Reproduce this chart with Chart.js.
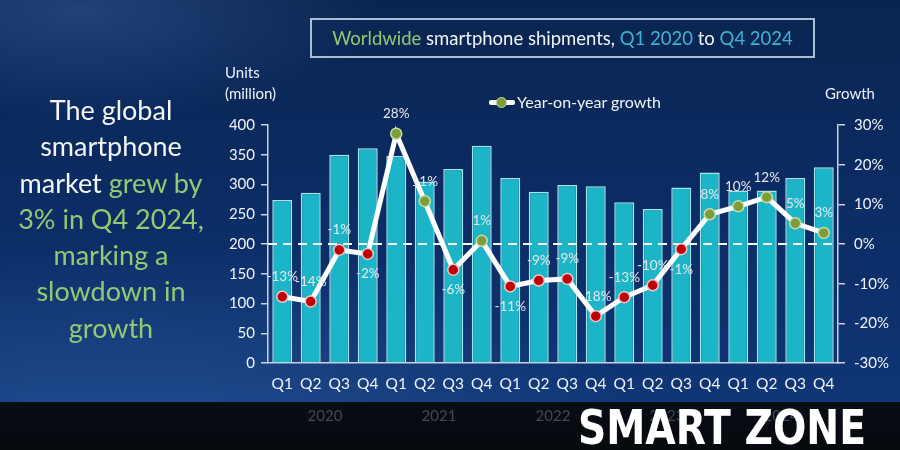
<!DOCTYPE html>
<html>
<head>
<meta charset="utf-8">
<script src="https://cdn.jsdelivr.net/npm/chart.js@4"></script>
<style>
  html, body { margin:0; padding:0; }
  body {
    width:900px; height:450px; overflow:hidden; position:relative;
    font-family: Lato, "Open Sans", sans-serif;
    background:
      radial-gradient(ellipse 300px 110px at 80px 10px, rgba(70,110,180,0.40), rgba(70,110,180,0) 100%),
      radial-gradient(ellipse 560px 240px at 120px 480px, rgba(70,120,190,0.42), rgba(70,120,190,0) 100%),
      linear-gradient(180deg, #09244f 0%, #0b2b62 40%, #10387a 100%);
  }
  #strip { position:absolute; left:0; top:402px; width:900px; height:48px;
    background: linear-gradient(180deg, #090d14 0%, #06090e 100%); }
  #wrap { position:absolute; left:0; top:0; width:900px; height:450px; }
  .abs { position:absolute; white-space:nowrap; }
  #titlebox { left:310px; top:18px; width:501px; height:36px; border:2px solid #a9bed6;
    color:#f2f5f8; font-size:18.5px; line-height:36px; text-align:center; }
  .g { color:#93c972; }
  .c { color:#3fb4d6; }
  #lefttext { left:0px; top:92px; width:222px; text-align:center; font-size:27px; line-height:36.3px; color:#f4f6f8; }
  .axt { color:#f0f3f7; font-size:15px; line-height:18px; }
  #legend { left:489px; top:92px; height:20px; font-size:16px; color:#f0f3f7; }
  #legline { position:absolute; left:0; top:8px; width:26px; height:5px; background:#fff; border-radius:2px; }
  #legdot { position:absolute; left:7px; top:5px; width:11px; height:11px; border-radius:50%; background:#7d9c3a; border:1px solid #c9d9a6; box-sizing:border-box; }
  #legtxt { position:absolute; left:28px; top:0; line-height:20px; }
  #wm { left:578px; top:403px; color:#ffffff; font-family:"Liberation Sans Narrow","DejaVu Sans Condensed",sans-serif;
    font-weight:bold; font-size:46px; line-height:46px; transform-origin:0 0; }
</style>
</head>
<body>
<div id="strip"></div>
<div id="wrap"><canvas id="c" width="900" height="450"></canvas></div>

<div id="titlebox" class="abs"><span class="g">Worldwide</span> smartphone shipments, <span class="c">Q1 2020</span> to <span class="c">Q4 2024</span></div>
<div id="lefttext" class="abs">The global<br>smartphone<br>market <span class="g">grew by</span><br><span class="g">3% in Q4 2024,</span><br><span class="g">marking a</span><br><span class="g">slowdown in</span><br><span class="g">growth</span></div>
<div class="abs axt" style="left:225px; top:63px;">Units</div>
<div class="abs axt" style="left:225px; top:84px;">(million)</div>
<div class="abs axt" style="left:825px; top:84px;">Growth</div>
<div id="legend" class="abs"><div id="legline"></div><div id="legdot"></div><div id="legtxt">Year-on-year growth</div></div>
<div id="wm" class="abs">SMART ZONE</div>

<script>
// ---- data ----
const quarters = ["Q1","Q2","Q3","Q4","Q1","Q2","Q3","Q4","Q1","Q2","Q3","Q4","Q1","Q2","Q3","Q4","Q1","Q2","Q3","Q4"];
const years = ["2020","2021","2022","2023","2024"];
const shipments = [274,286,350,361,348,305,326,365,311,288,299,297,270,259,295,320,290,290,311,329];
const growth = [-13.3,-14.5,-1.5,-2.5,27.8,10.8,-6.5,0.8,-10.7,-9.2,-8.8,-18.2,-13.4,-10.4,-1.3,7.5,9.5,11.8,5.2,2.8];
const growthLabels = ["-13%","-14%","-1%","-2%","28%","11%","-6%","1%","-11%","-9%","-9%","-18%","-13%","-10%","-1%","8%","10%","12%","5%","3%"];
const unitTicks = [0,50,100,150,200,250,300,350,400];
const growthTicks = [-30,-20,-10,0,10,20,30];

// label placement (below the point for these indices, otherwise above)
const belowIdx = new Set([3,6,8,14]);

const axisColor = '#c9d2de';
const tickFont = { family: 'Lato, "Open Sans", sans-serif', size: 15 };

const overlayPlugin = {
  id: 'overlay',
  afterDatasetDraw(chart, args) {
    if (args.index !== 0) return;
    const ctx = chart.ctx, ca = chart.chartArea;
    const y0 = chart.scales.y2.getPixelForValue(0);
    ctx.save();
    ctx.strokeStyle = '#f4f6f8';
    ctx.lineWidth = 2;
    ctx.setLineDash([9, 6]);
    ctx.beginPath();
    ctx.moveTo(ca.left, y0);
    ctx.lineTo(ca.right, y0);
    ctx.stroke();
    ctx.restore();
  },
  afterDatasetsDraw(chart) {
    const ctx = chart.ctx;
    const meta = chart.getDatasetMeta(1);
    ctx.save();
    ctx.font = '13.5px Lato, "Open Sans", sans-serif';
    ctx.textAlign = 'center';
    ctx.textBaseline = 'middle';
    ctx.fillStyle = '#e4e9ee';
    meta.data.forEach((pt, i) => {
      const dy = belowIdx.has(i) ? 20 : -20;
      ctx.fillText(growthLabels[i], pt.x, pt.y + dy);
    });
    // year labels under the quarter groups
    const xs = chart.scales.x;
    ctx.font = '15px Lato, "Open Sans", sans-serif';
    ctx.fillStyle = '#40475a';
    years.forEach((yr, k) => {
      const x = (xs.getPixelForValue(k*4+1) + xs.getPixelForValue(k*4+2)) / 2;
      ctx.fillText(yr, x, 416);
    });
    ctx.restore();
  }
};

const chart = new Chart(document.getElementById('c'), {
  type: 'bar',
  data: {
    labels: quarters,
    datasets: [
      {
        type: 'bar',
        label: 'Units',
        data: shipments,
        yAxisID: 'y',
        backgroundColor: '#1cb5c8',
        borderColor: '#a6e6ef',
        borderWidth: 1.5,
        barPercentage: 0.7,
        categoryPercentage: 1.0,
        order: 2
      },
      {
        type: 'line',
        label: 'Year-on-year growth',
        data: growth,
        yAxisID: 'y2',
        borderColor: '#ffffff',
        borderWidth: 5,
        tension: 0,
        pointRadius: 5.5,
        pointBorderWidth: 1.5,
        pointBackgroundColor: growth.map(v => v < 0 ? '#c00000' : '#7d9c3a'),
        pointBorderColor: growth.map(v => v < 0 ? '#f2c6c6' : '#cddca8'),
        order: 1
      }
    ]
  },
  options: {
    responsive: false,
    animation: false,
    layout: { padding: { left: 220, right: 2, top: 125, bottom: 47 } },
    plugins: { legend: { display: false }, tooltip: { enabled: false } },
    scales: {
      x: {
        grid: { display: false, drawTicks: false },
        border: { display: true, color: axisColor, width: 1.5 },
        ticks: { color: '#f0f3f7', font: { family: 'Lato, "Open Sans", sans-serif', size: 15.5 }, padding: 12, maxRotation: 0, autoSkip: false },
        afterFit(s) { s.height = 40; }
      },
      y: {
        position: 'left',
        min: 0, max: 400,
        afterBuildTicks(s) { s.ticks = unitTicks.map(v => ({ value: v })); },
        grid: { drawOnChartArea: false, color: axisColor, tickLength: 7, lineWidth: 1.5 },
        border: { color: axisColor, width: 1.5 },
        ticks: { color: '#f0f3f7', font: tickFont, padding: 6 },
        afterFit(s) { s.width = 48; }
      },
      y2: {
        position: 'right',
        min: -30, max: 30,
        afterBuildTicks(s) { s.ticks = growthTicks.map(v => ({ value: v })); },
        grid: { drawOnChartArea: false, color: axisColor, tickLength: 7, lineWidth: 1.5 },
        border: { color: axisColor, width: 1.5 },
        ticks: { color: '#f0f3f7', font: tickFont, padding: 9, callback: v => v + '%' },
        afterFit(s) { s.width = 60; }
      }
    }
  },
  plugins: [overlayPlugin]
});

// fit watermark width
const wm = document.getElementById('wm');
const w = wm.getBoundingClientRect().width;
wm.style.transform = 'scale(' + (288 / w) + ', 1.05)';
</script>
</body>
</html>
